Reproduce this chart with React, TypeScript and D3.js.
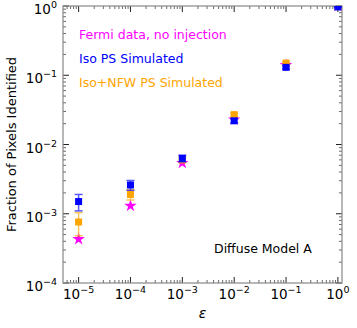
import React from 'react';
import { scaleLog, symbol, symbolStar, range } from 'd3';

// epsilon values (x)
const epsilons = [1e-5, 1e-4, 1e-3, 1e-2, 1e-1, 1];

// Fermi data, no injection (stars)
const fermiFrac = [4.3e-4, 1.3e-3, 5.4e-3, 0.023, 0.14, 1.0];

// Iso PS Simulated
const isoFrac = [1.5e-3, 2.6e-3, 6.3e-3, 0.022, 0.13, 0.97];
const isoErr = [0.4e-3, 0.42e-3, 0.7e-3, 0.0015, 0.006, 0.01];

// Iso+NFW PS Simulated
const nfwFrac = [7.6e-4, 1.9e-3, 6.0e-3, 0.027, 0.15, 1.0];
const nfwErr = [2.8e-4, 0.32e-3, 0.5e-3, 0.0015, 0.006, 0.005];

const xTickExps = [-5, -4, -3, -2, -1, 0];
const yTickExps = [-4, -3, -2, -1, 0];

const legendLabels = ['Fermi data, no injection', 'Iso PS Simulated', 'Iso+NFW PS Simulated'];
const legendColors = ['#ff00ff', '#0000ff', '#ffa500'];

const W = 357, H = 328;
const M = { left: 63, right: 342, top: 6, bottom: 283 };
const FONT = 'DejaVu Sans, sans-serif';

function minorTicks(lo: number, hi: number) {
  const out: number[] = [];
  for (let e = lo; e < hi; e++) {
    for (let k = 2; k <= 9; k++) out.push(k * Math.pow(10, e));
  }
  return out;
}

export default function App() {
  const x = scaleLog().domain([5e-6, 1.2]).range([M.left, M.right]);
  const y = scaleLog().domain([1e-4, 1]).range([M.bottom, M.top]);

  const xMinor = minorTicks(-6, 1).filter(v => v > 5e-6 && v < 1.2);
  const yMinor = minorTicks(-4, 0);

  const star = symbol().type(symbolStar).size(48)() as string;

  const errBars = (vals: number[], errs: number[], color: string) =>
    vals.map((v, i) => {
      const cx = x(epsilons[i]);
      const y1 = y(v + errs[i]);
      const y2 = y(Math.max(v - errs[i], 1e-6));
      return (
        <g key={i} stroke={color} strokeWidth={1.5} opacity={0.65}>
          <line x1={cx} x2={cx} y1={y1} y2={y2} />
          <line x1={cx - 4} x2={cx + 4} y1={y1} y2={y1} />
          <line x1={cx - 4} x2={cx + 4} y1={y2} y2={y2} />
        </g>
      );
    });

  const squares = (vals: number[], color: string) =>
    vals.map((v, i) => (
      <rect key={i} x={x(epsilons[i]) - 3.5} y={y(v) - 3.5} width={7} height={7} fill={color} />
    ));

  const tickLabel = (e: number) => (
    <>
      10<tspan dy={-6} fontSize={9.5}>{e === 0 ? '0' : '\u2212' + Math.abs(e)}</tspan>
    </>
  );

  return (
    <div style={{ position: 'fixed', left: 0, top: 0 }}>
      <svg width={W} height={H} style={{ display: 'block', background: '#fff' }} fontFamily={FONT}>
        <defs>
          <clipPath id="plotclip">
            <rect x={M.left} y={M.top} width={M.right - M.left} height={M.bottom - M.top} />
          </clipPath>
        </defs>

        {/* minor ticks */}
        <g stroke="#444" strokeWidth={0.8}>
          {xMinor.map((v, i) => (
            <g key={'xm' + i}>
              <line x1={x(v)} x2={x(v)} y1={M.bottom} y2={M.bottom - 3} />
              <line x1={x(v)} x2={x(v)} y1={M.top} y2={M.top + 3} />
            </g>
          ))}
          {yMinor.map((v, i) => (
            <g key={'ym' + i}>
              <line x1={M.left} x2={M.left + 3} y1={y(v)} y2={y(v)} />
              <line x1={M.right} x2={M.right - 3} y1={y(v)} y2={y(v)} />
            </g>
          ))}
        </g>
        {/* major ticks */}
        <g stroke="#222" strokeWidth={1}>
          {xTickExps.map(e => {
            const px = x(Math.pow(10, e));
            return (
              <g key={'xM' + e}>
                <line x1={px} x2={px} y1={M.bottom} y2={M.bottom - 6} />
                <line x1={px} x2={px} y1={M.top} y2={M.top + 6} />
              </g>
            );
          })}
          {yTickExps.map(e => {
            const py = y(Math.pow(10, e));
            return (
              <g key={'yM' + e}>
                <line x1={M.left} x2={M.left + 6} y1={py} y2={py} />
                <line x1={M.right} x2={M.right - 6} y1={py} y2={py} />
              </g>
            );
          })}
        </g>

        {/* frame */}
        <rect x={M.left} y={M.top} width={M.right - M.left} height={M.bottom - M.top}
          fill="none" stroke="#888" strokeWidth={1.2} />

        {/* tick labels */}
        <g fontSize={13.5} fill="#000">
          {xTickExps.map(e => (
            <text key={'xl' + e} x={x(Math.pow(10, e))} y={M.bottom + 16} textAnchor="middle">
              {tickLabel(e)}
            </text>
          ))}
          {yTickExps.map(e => (
            <text key={'yl' + e} x={M.left - 6} y={y(Math.pow(10, e)) + 8} textAnchor="end">
              {tickLabel(e)}
            </text>
          ))}
        </g>

        {/* axis labels */}
        <text x={(M.left + M.right) / 2} y={318} textAnchor="middle" fontSize={14} fontStyle="italic">ε</text>
        <text transform={`translate(16,${(M.top + M.bottom) / 2}) rotate(-90)`} textAnchor="middle" fontSize={13}>
          Fraction of Pixels Identified
        </text>

        <g clipPath="url(#plotclip)">
          {fermiFrac.map((v, i) => (
            <path key={'s' + i} d={star} transform={`translate(${x(epsilons[i])},${y(v)})`} fill="#ff00ff" />
          ))}
          {errBars(nfwFrac, nfwErr, '#ffa500')}
          {squares(nfwFrac, '#ffa500')}
          {errBars(isoFrac, isoErr, '#0000ff')}
          {squares(isoFrac, '#0000ff')}
        </g>

        {/* legend text */}
        {range(legendLabels.length).map(i => (
          <text key={'lg' + i} x={79} y={39 + i * 24} fontSize={12.5} fill={legendColors[i]}>
            {legendLabels[i]}
          </text>
        ))}
        <text x={214} y={253} fontSize={12.5} fill="#000">Diffuse Model A</text>
      </svg>
    </div>
  );
}
